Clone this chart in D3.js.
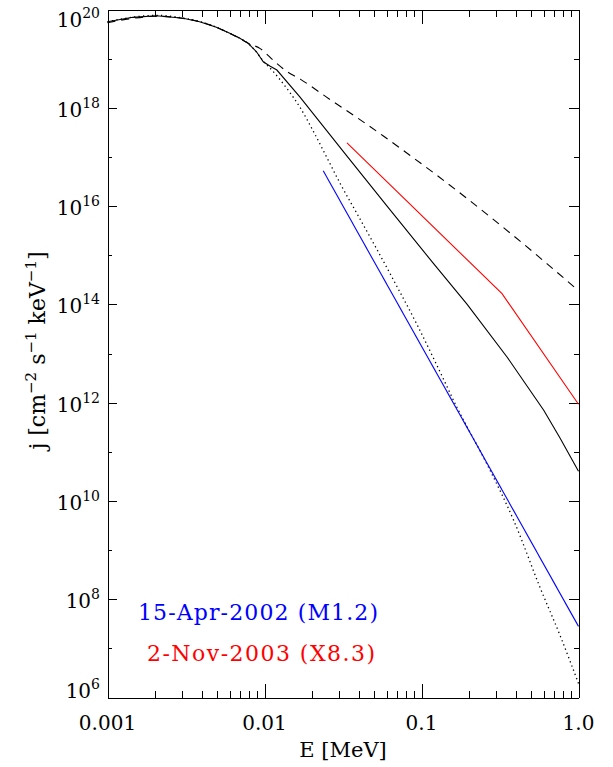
<!DOCTYPE html>
<html lang="en">
<head>
<meta charset="UTF-8">
<script src="https://d3js.org/d3.v7.min.js"></script>
<title>Electron spectra</title>
<style>
  body { margin:0; background:#fff; }
  text { font-family: "DejaVu Serif", "Liberation Serif", serif; fill:#000; }
  .axis path, .axis line { stroke:#000; stroke-width:1px; shape-rendering:crispEdges; }
</style>
</head>
<body>
<svg id="chart" width="613" height="767"></svg>
<script>
// energies in MeV, intensities in cm^-2 s^-1 keV^-1
const solidE = [0.001, 0.00145, 0.00205, 0.00303, 0.00386, 0.00494, 0.00601, 0.00697, 0.00787, 0.00889, 0.00982, 0.01081, 0.01199, 0.01679, 0.03353, 0.06036, 0.1187, 0.1948, 0.3505, 0.6005, 0.7625, 1.0];
const solidJ = [5.65e19, 6.93e19, 7.48e19, 6.62e19, 5.65e19, 4.35e19, 3.27e19, 2.59e19, 2.05e19, 1.38e19, 8.65e18, 7.08e18, 5.86e18, 1.67e18, 1.04e17, 9.97e15, 6.89e14, 1.01e14, 8.5e12, 7.0e11, 1.90e11, 4.0e10];

const dashedE = [0.001, 0.00145, 0.00205, 0.00303, 0.00386, 0.00494, 0.00601, 0.00697, 0.00787, 0.00934, 0.01164, 0.01368, 0.01698, 0.02585, 0.03868, 0.05717, 0.08465, 0.1283, 0.1948, 0.2879, 0.4263, 0.6313, 1.0];
const dashedJ = [5.4e19, 6.6e19, 7.3e19, 6.6e19, 5.65e19, 4.35e19, 3.27e19, 2.59e19, 2.05e19, 1.62e19, 8.65e18, 5.67e18, 3.79e18, 1.51e18, 6.38e17, 2.66e17, 1.07e17, 4.00e16, 1.43e16, 5.30e15, 1.91e15, 6.67e14, 1.90e14];

const dottedE = [0.001, 0.00145, 0.00205, 0.00303, 0.00386, 0.00494, 0.00601, 0.00697, 0.00786, 0.00889, 0.00980, 0.01114, 0.01382, 0.01680, 0.02043, 0.02488, 0.03025, 0.03868, 0.05189, 0.06963, 0.09341, 0.1253, 0.1681, 0.2614, 0.3864, 0.5720, 0.7673, 1.0];
const dottedJ = [5.6e19, 7.0e19, 7.6e19, 6.7e19, 5.7e19, 4.35e19, 3.27e19, 2.59e19, 2.05e19, 1.36e19, 8.94e18, 5.86e18, 2.52e18, 1.03e18, 3.36e17, 9.92e16, 2.93e16, 7.18e15, 1.33e15, 2.34e14, 3.94e13, 5.77e12, 8.05e11, 5.56e10, 4.03e9, 1.66e8, 1.75e7, 1.93e6];

// observed flares
const m12E = [0.02366, 1.0];
const m12J = [5.22e16, 2.80e7];
const x83E = [0.03353, 0.3258, 1.0];
const x83J = [1.94e17, 1.65e14, 9.27e11];

const xMajor = [0.001, 0.01, 0.1, 1.0];
const xLabels = ["0.001", "0.01", "0.1", "1.0"];
const yMajorExp = [6, 8, 10, 12, 14, 16, 18, 20];
const yMinorExp = [7, 9, 11, 13, 15, 17, 19];
const legendLabels = ["15-Apr-2002 (M1.2)", "2-Nov-2003 (X8.3)"];
const legendColors = ["#0000ff", "#ff0000"];

let svg = d3.select("#chart");
let pLeft = 107.5, pRight = 578.5, pTop = 9.5, pBottom = 697.5;

let x = d3.scaleLog().domain([0.001, 1]).range([pLeft, pRight]);
let y = d3.scaleLog().domain([1e6, 1e20]).range([pBottom, pTop]);

let xMinor = [];
[0.001, 0.01, 0.1].forEach(d => d3.range(2, 10).forEach(k => xMinor.push(d * k)));
let yMajor = yMajorExp.map(e => Math.pow(10, e));
let yMinor = yMinorExp.map(e => Math.pow(10, e));

// frame + ticks (all pointing inward)
function axes(gen, pos, major, minor, lenMajor, lenMinor) {
  svg.append("g").attr("class", "axis").attr("transform", pos)
    .call(gen(major).tickSizeInner(-lenMajor).tickSizeOuter(0).tickFormat(""));
  svg.append("g").attr("class", "axis").attr("transform", pos)
    .call(gen(minor).tickSizeInner(-lenMinor).tickSizeOuter(0).tickFormat(""))
    .select(".domain").remove();
}
axes(v => d3.axisBottom(x).tickValues(v), "translate(0," + pBottom + ")", xMajor, xMinor, 14, 7);
axes(v => d3.axisTop(x).tickValues(v), "translate(0," + pTop + ")", xMajor, xMinor, 14, 7);
axes(v => d3.axisLeft(y).tickValues(v), "translate(" + pLeft + ",0)", yMajor, yMinor, 9.4, 4.7);
axes(v => d3.axisRight(y).tickValues(v), "translate(" + pRight + ",0)", yMajor, yMinor, 9.4, 4.7);

// x tick labels
svg.append("g").selectAll("text").data(xMajor).enter()
  .append("text")
  .attr("x", d => x(d))
  .attr("y", 730)
  .attr("text-anchor", "middle")
  .style("font-size", "20px")
  .text((d, i) => xLabels[i]);

// y tick labels, 10^n
let ylab = svg.append("g").selectAll("text").data(yMajorExp).enter()
  .append("text")
  .attr("x", 100)
  .attr("y", d => Math.min(Math.max(y(Math.pow(10, d)) + 9, 27), pBottom))
  .attr("text-anchor", "end")
  .style("font-size", "20px");
ylab.append("tspan").text("10");
ylab.append("tspan").attr("dy", -9).style("font-size", "14px").text(d => d);

// axis titles
svg.append("text")
  .attr("x", (pLeft + pRight) / 2)
  .attr("y", 757)
  .attr("text-anchor", "middle")
  .style("font-size", "21px")
  .text("E [MeV]");

let yt = svg.append("text")
  .attr("transform", "translate(45," + ((pTop + pBottom) / 2 - 3) + ") rotate(-90)")
  .attr("text-anchor", "middle")
  .style("font-size", "22px");
yt.append("tspan").text("j [cm");
yt.append("tspan").attr("dy", -9).style("font-size", "15px").text("\u22122");
yt.append("tspan").attr("dy", 9).text(" s");
yt.append("tspan").attr("dy", -9).style("font-size", "15px").text("\u22121");
yt.append("tspan").attr("dy", 9).text(" keV");
yt.append("tspan").attr("dy", -9).style("font-size", "15px").text("\u22121");
yt.append("tspan").attr("dy", 9).text("]");

// curves
function curve(es, js, color, dash, w, shape) {
  let line = d3.line().x(d => x(d[0])).y(d => y(d[1])).curve(shape);
  svg.append("path")
    .datum(es.map((e, i) => [e, js[i]]))
    .attr("d", line)
    .style("fill", "none")
    .style("stroke", color)
    .style("stroke-width", w)
    .style("stroke-dasharray", dash);
}
curve(dashedE, dashedJ, "#000", "8,6", 1.1, d3.curveMonotoneX);
curve(dottedE, dottedJ, "#000", "1.3,3.2", 1.3, d3.curveMonotoneX);
curve(solidE, solidJ, "#000", null, 1.1, d3.curveLinear);
curve(m12E, m12J, legendColors[0], null, 1.1, d3.curveLinear);
curve(x83E, x83J, legendColors[1], null, 1.1, d3.curveLinear);

// legend
svg.append("g").selectAll("text").data(legendLabels).enter()
  .append("text")
  .attr("x", (d, i) => i == 0 ? 138 : 147)
  .attr("y", (d, i) => i == 0 ? 620 : 661)
  .attr("textLength", (d, i) => i == 0 ? 240 : 228)
  .attr("lengthAdjust", "spacing")
  .style("font-size", "22px")
  .style("fill", (d, i) => legendColors[i])
  .text(d => d);
</script>
</body>
</html>
